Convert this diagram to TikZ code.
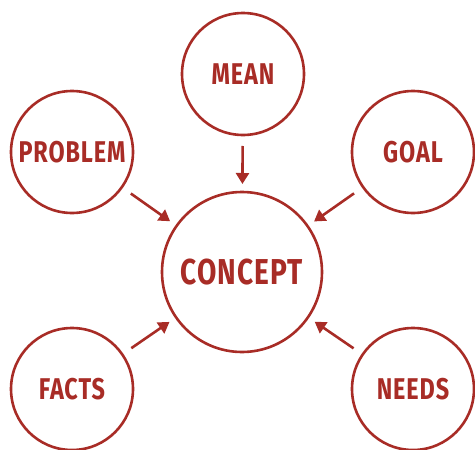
\documentclass[tikz,border=0pt]{standalone}
\usepackage{fontspec}
\usepackage{xcolor}
\usepackage{tikz}
\usetikzlibrary{arrows.meta}

\newfontfamily\bubblefont[FakeStretch=0.78, LetterSpace=3]{Fira Sans}
\definecolor{brick}{RGB}{168,44,38}

\tikzset{
	bubble/.style = {circle, draw = brick, line width = 2.6pt, text = brick,
		minimum size = 122pt, inner sep = 0pt, outer sep = 0pt,
		font = \bubblefont\bfseries\fontsize{30}{30}\selectfont},
	bigbubble/.style = {bubble, minimum size = 160pt,
		font = \bubblefont\bfseries\fontsize{36}{36}\selectfont},
	feeds/.style = {draw = brick, line width = 2.6pt,
		-{Triangle[length = 11pt, width = 13pt]},
		shorten < = 11pt, shorten > = 8pt}
}

\begin{document}
\begin{tikzpicture}[x = 1pt, y = -1pt]
	\useasboundingbox (0,0) rectangle (475,450);
	\node[bigbubble] (concept) at (242,272) {CONCEPT};
	\node[bubble] (mean) at (243,74) {MEAN};
	\node[bubble] (problem) at (72,152) {PROBLEM};
	\node[bubble] (goal) at (413,152) {GOAL};
	\node[bubble] (facts) at (72,389) {FACTS};
	\node[bubble] (needs) at (413,389) {NEEDS};
	\foreach \n in {mean,problem,goal,facts,needs} {
	\draw[feeds] (\n) -- (concept);
	}
\end{tikzpicture}
\end{document}
